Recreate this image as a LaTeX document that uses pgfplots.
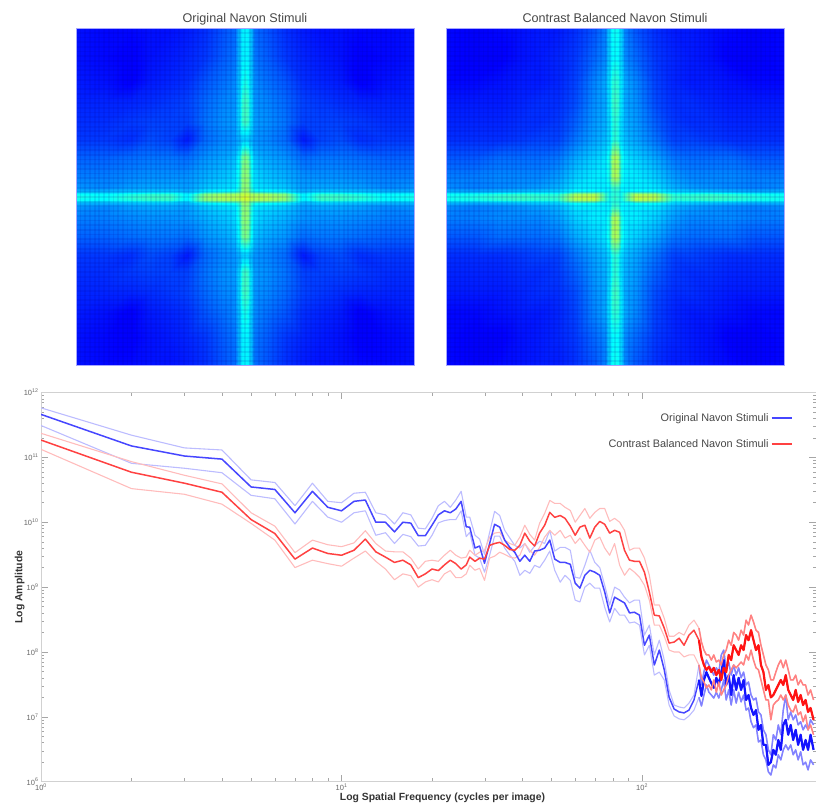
\documentclass[border=0pt]{standalone}
\usepackage{pgfplots}
\usepackage{pgfplotstable}
\usepackage{fontspec}
\setmainfont{Liberation Sans}
\pgfplotsset{compat=1.18}
\definecolor{bmid}{RGB}{70,70,255}
\definecolor{rmid}{RGB}{255,65,65}
\definecolor{bband}{RGB}{188,188,255}
\definecolor{rband}{RGB}{255,188,188}
\definecolor{bt}{RGB}{20,20,255}
\definecolor{rt}{RGB}{255,20,20}
\definecolor{bbt}{RGB}{130,130,255}
\definecolor{rbt}{RGB}{255,130,130}

\pgfplotstableread[row sep=\\]{
x y z\\
0 0 0.60\\3 0 0.58\\6 0 0.56\\10 0 0.55\\20 0 0.55\\40 0 0.52\\58 0 0.37\\75 0 0.44\\95 0 0.44\\115 0 0.42\\140 0 0.38\\169 0 0.40\\
0 3 0.57\\3 3 0.56\\6 3 0.54\\10 3 0.53\\20 3 0.53\\40 3 0.50\\58 3 0.36\\75 3 0.42\\95 3 0.42\\115 3 0.40\\140 3 0.37\\169 3 0.38\\
0 6 0.53\\3 6 0.51\\6 6 0.43\\10 6 0.39\\20 6 0.38\\40 6 0.36\\58 6 0.30\\75 6 0.32\\95 6 0.32\\115 6 0.31\\140 6 0.30\\169 6 0.30\\
0 10 0.52\\3 10 0.50\\6 10 0.41\\10 10 0.35\\20 10 0.34\\40 10 0.32\\58 10 0.28\\75 10 0.29\\95 10 0.29\\115 10 0.28\\140 10 0.26\\169 10 0.27\\
0 20 0.52\\3 20 0.50\\6 20 0.40\\10 20 0.34\\20 20 0.32\\40 20 0.30\\58 20 0.27\\75 20 0.27\\95 20 0.27\\115 20 0.26\\140 20 0.25\\169 20 0.25\\
0 40 0.50\\3 40 0.47\\6 40 0.38\\10 40 0.31\\20 40 0.29\\40 40 0.27\\58 40 0.23\\75 40 0.24\\95 40 0.24\\115 40 0.23\\140 40 0.22\\169 40 0.22\\
0 58 0.33\\3 58 0.32\\6 58 0.30\\10 58 0.27\\20 58 0.26\\40 58 0.23\\58 58 0.15\\75 58 0.19\\95 58 0.20\\115 58 0.17\\140 58 0.18\\169 58 0.18\\
0 75 0.44\\3 75 0.42\\6 75 0.34\\10 75 0.28\\20 75 0.27\\40 75 0.24\\58 75 0.19\\75 75 0.19\\95 75 0.19\\115 75 0.18\\140 75 0.17\\169 75 0.17\\
0 95 0.44\\3 95 0.42\\6 95 0.34\\10 95 0.27\\20 95 0.26\\40 95 0.23\\58 95 0.19\\75 95 0.18\\95 95 0.17\\115 95 0.16\\140 95 0.16\\169 95 0.16\\
0 115 0.40\\3 115 0.38\\6 115 0.32\\10 115 0.26\\20 115 0.24\\40 115 0.21\\58 115 0.17\\75 115 0.16\\95 115 0.15\\115 115 0.12\\140 115 0.14\\169 115 0.15\\
0 140 0.37\\3 140 0.36\\6 140 0.31\\10 140 0.24\\20 140 0.22\\40 140 0.18\\58 140 0.16\\75 140 0.15\\95 140 0.14\\115 140 0.12\\140 140 0.13\\169 140 0.14\\
0 169 0.37\\3 169 0.36\\6 169 0.31\\10 169 0.23\\20 169 0.21\\40 169 0.17\\58 169 0.15\\75 169 0.14\\95 169 0.14\\115 169 0.13\\140 169 0.13\\169 169 0.14\\
}\mapA

\pgfplotstableread[row sep=\\]{
x y z\\
0 0 0.44\\3 0 0.42\\6 0 0.40\\10 0 0.44\\20 0 0.57\\40 0 0.56\\58 0 0.43\\75 0 0.43\\95 0 0.44\\115 0 0.43\\140 0 0.41\\169 0 0.39\\
0 3 0.42\\3 3 0.41\\6 3 0.39\\10 3 0.43\\20 3 0.54\\40 3 0.53\\58 3 0.41\\75 3 0.41\\95 3 0.42\\115 3 0.41\\140 3 0.39\\169 3 0.38\\
0 6 0.42\\3 6 0.41\\6 6 0.38\\10 6 0.37\\20 6 0.38\\40 6 0.38\\58 6 0.33\\75 6 0.32\\95 6 0.31\\115 6 0.30\\140 6 0.29\\169 6 0.30\\
0 10 0.44\\3 10 0.43\\6 10 0.37\\10 10 0.36\\20 10 0.36\\40 10 0.35\\58 10 0.30\\75 10 0.28\\95 10 0.27\\115 10 0.26\\140 10 0.25\\169 10 0.26\\
0 20 0.55\\3 20 0.52\\6 20 0.40\\10 20 0.36\\20 20 0.36\\40 20 0.33\\58 20 0.28\\75 20 0.26\\95 20 0.26\\115 20 0.26\\140 20 0.25\\169 20 0.25\\
0 40 0.55\\3 40 0.52\\6 40 0.40\\10 40 0.35\\20 40 0.33\\40 40 0.29\\58 40 0.24\\75 40 0.23\\95 40 0.23\\115 40 0.23\\140 40 0.21\\169 40 0.21\\
0 58 0.42\\3 58 0.40\\6 58 0.34\\10 58 0.31\\20 58 0.29\\40 58 0.24\\58 58 0.19\\75 58 0.19\\95 58 0.18\\115 58 0.17\\140 58 0.17\\169 58 0.17\\
0 75 0.42\\3 75 0.40\\6 75 0.34\\10 75 0.30\\20 75 0.28\\40 75 0.22\\58 75 0.18\\75 75 0.17\\95 75 0.17\\115 75 0.16\\140 75 0.16\\169 75 0.16\\
0 95 0.44\\3 95 0.42\\6 95 0.35\\10 95 0.29\\20 95 0.27\\40 95 0.20\\58 95 0.17\\75 95 0.17\\95 95 0.16\\115 95 0.15\\140 95 0.15\\169 95 0.15\\
0 115 0.42\\3 115 0.41\\6 115 0.35\\10 115 0.29\\20 115 0.26\\40 115 0.19\\58 115 0.16\\75 115 0.15\\95 115 0.15\\115 115 0.14\\140 115 0.13\\169 115 0.13\\
0 140 0.38\\3 140 0.37\\6 140 0.33\\10 140 0.26\\20 140 0.23\\40 140 0.18\\58 140 0.16\\75 140 0.15\\95 140 0.14\\115 140 0.12\\140 140 0.12\\169 140 0.13\\
0 169 0.39\\3 169 0.38\\6 169 0.33\\10 169 0.25\\20 169 0.21\\40 169 0.17\\58 169 0.15\\75 169 0.15\\95 169 0.14\\115 169 0.13\\140 169 0.12\\169 169 0.13\\
}\mapB

\pgfplotstableread{
f mid hi lo
1 4.6e11 5.8e11 3.1e11
2 1.5e11 2.2e11 8.1e10
3 1.05e11 1.4e11 6.8e10
4 9.4e10 1.3e11 5.8e10
5 3.5e10 4.5e10 2.6e10
6 3.2e10 4.1e10 2.3e10
7 1.4e10 1.8e10 9.4e9
8 3.0e10 4.0e10 2.1e10
9 1.7e10 2.1e10 1.2e10
10 1.5e10 2.0e10 1.0e10
11 2.1e10 2.8e10 1.4e10
12 2.2e10 2.9e10 1.5e10
13 1.0e10 1.4e10 6.3e9
14 1.0e10 1.3e10 6.9e9
15 7.1e9 9.4e9 4.7e9
16 1.0e10 1.4e10 6.5e9
17 9.7e9 1.3e10 6.0e9
18 6.2e9 8.1e9 4.3e9
19 6.2e9 7.9e9 4.4e9
20 9.0e9 1.15e10 6.3e9
21 1.3e10 1.8e10 9.8e9
22 1.5e10 2.1e10 1.06e10
23 1.4e10 1.7e10 1.1e10
24 1.6e10 2.2e10 1.1e10
25 2.1e10 3.0e10 1.5e10
26 8.5e9 1.2e10 6.0e9
26.7 8.4e9 1.2e10 7.0e9
27.8 4.0e9 6.3e9 3.1e9
28.8 4.3e9 5.5e9 2.8e9
29.9 2.33e9 3.2e9 1.7e9
31.1 4.7e9 7.0e9 3.1e9
32.3 9.3e9 1.47e10 6.1e9
33.6 8.4e9 1.27e10 6.1e9
34.9 5.3e9 7.5e9 4.0e9
36.3 4.1e9 5.7e9 3.1e9
37.7 3.45e9 4.4e9 2.5e9
39.2 2.5e9 4.0e9 1.52e9
40.7 3.1e9 4.7e9 1.82e9
42.3 2.5e9 3.45e9 1.63e9
43.9 3.6e9 4.3e9 2.17e9
45.6 3.7e9 5.1e9 2.0e9
47.4 4.0e9 4.7e9 2.6e9
49.3 5.3e9 7.5e9 3.6e9
51.2 2.7e9 3.6e9 1.82e9
53.4 2.4e9 4.1e9 1.19e9
55.4 2.4e9 4.1e9 1.52e9
57.7 2.25e9 3.7e9 1.27e9
59.9 1.15e9 1.42e9 6.3e8
62.1 9.65e8 1.37e9 5.9e8
64.5 1.52e9 2.17e9 1.0e9
67 1.82e9 3.7e9 1.15e9
69.6 1.7e9 2.4e9 9.65e8
72.3 1.52e9 2.0e9 9.65e8
75.1 8.4e8 1.07e9 4.9e8
78 4.0e8 5.3e8 2.9e8
81 7.0e8 1.0e9 4.7e8
84.2 6.3e8 9.0e8 3.7e8
87.4 5.7e8 7.0e8 3.7e8
90.8 4.0e8 5.7e8 2.8e8
94.3 4.1e8 6.3e8 2.9e8
98 3.7e8 6.3e8 2.6e8
101.8 1.27e8 1.82e8 9.0e7
105.7 1.82e8 2.6e8 1.27e8
109.8 6.3e7 9.0e7 4.4e7
114.1 1.07e8 1.52e8 4.9e7
118.5 5.3e7 7.5e7 3.7e7
123 2.0e7 2.6e7 1.52e7
127.8 1.32e7 1.52e7 1.03e7
132.8 1.19e7 1.42e7 9.3e6
137.9 1.15e7 1.37e7 9.0e6
143.2 1.27e7 1.63e7 1.03e7
148.8 1.82e7 2.17e7 1.27e7
154.6 3.7e7 6.3e7 2.0e7
157.6 2.1e7 3.1e7 1.47e7
160.6 3.7e7 4.9e7 2.17e7
163.7 4.9e7 7.5e7 3.1e7
166.8 4.0e7 6.3e7 2.4e7
170 3.3e7 5.3e7 2.17e7
173.2 2.8e7 4.4e7 1.95e7
176.6 4.0e7 5.7e7 2.4e7
180 3.1e7 4.9e7 1.95e7
183.4 4.9e7 9.0e7 2.6e7
186.9 7.5e7 1.07e8 3.7e7
190.5 3.1e7 5.3e7 1.82e7
194.2 4.4e7 7.0e7 2.6e7
197.9 2.17e7 4.4e7 1.52e7
201.7 4.4e7 6.3e7 2.6e7
205.6 2.6e7 4.4e7 1.63e7
209.5 4.0e7 5.7e7 2.4e7
213.5 2.6e7 4.0e7 1.7e7
217.6 3.7e7 4.9e7 2.17e7
221.8 1.82e7 3.1e7 1.27e7
226 2.17e7 3.45e7 1.37e7
230.4 1.37e7 2.17e7 8.4e6
234.8 1.07e7 1.82e7 6.8e6
239.3 1.27e7 1.95e7 7.5e6
243.9 6.3e6 1.19e7 4.1e6
248.6 7.5e6 1.07e7 4.4e6
253.3 3.7e6 6.3e6 2.6e6
258.2 3.7e6 5.3e6 2.17e6
263.1 1.82e6 3.1e6 1.42e6
268.2 2.0e6 2.6e6 1.27e6
273.3 3.1e6 5.3e6 1.82e6
278.6 2.6e6 4.4e6 1.63e6
283.9 4.4e6 7.5e6 2.6e6
289.4 3.1e6 5.3e6 2.17e6
294.9 7.5e6 1.27e7 3.1e6
300.6 9.0e6 2.17e7 3.7e6
306.3 5.3e6 9.0e6 3.1e6
312.2 7.5e6 1.19e7 3.7e6
318.2 4.4e6 9.0e6 2.6e6
324.3 6.3e6 1.07e7 3.1e6
330.5 3.7e6 7.5e6 2.17e6
336.9 5.3e6 8.4e6 2.9e6
343.3 3.1e6 6.3e6 1.82e6
349.9 4.4e6 7.5e6 2.0e6
356.6 3.1e6 6.3e6 1.52e6
363.5 5.3e6 9.0e6 2.17e6
372 3.1e6 7.5e6 1.82e6
}\blue

\pgfplotstableread{
f mid hi lo
1 1.85e11 2.35e11 1.33e11
2 5.9e10 8.6e10 3.3e10
3 4.0e10 5.3e10 2.7e10
4 2.9e10 3.9e10 1.9e10
5 1.1e10 1.4e10 9.6e9
6 6.7e9 8.7e9 5.3e9
7 2.7e9 3.4e9 2.0e9
8 4.0e9 5.3e9 2.6e9
9 3.3e9 4.5e9 2.3e9
10 3.1e9 4.2e9 2.1e9
11 3.7e9 4.8e9 2.8e9
12 5.5e9 7.4e9 3.6e9
13 3.5e9 4.7e9 2.5e9
14 2.9e9 3.6e9 1.9e9
15 2.4e9 3.5e9 1.3e9
16 2.6e9 3.5e9 1.6e9
17 2.2e9 2.8e9 1.5e9
18 1.4e9 1.9e9 1.0e9
19 1.6e9 2.5e9 1.2e9
20 1.9e9 2.6e9 1.3e9
21 1.8e9 2.5e9 1.2e9
22 2.2e9 3.1e9 1.6e9
23 2.6e9 3.7e9 1.8e9
24 2.3e9 3.1e9 1.4e9
25 1.9e9 2.8e9 1.4e9
26 2.2e9 2.9e9 1.6e9
26.7 2.9e9 3.7e9 2.17e9
27.8 2.5e9 3.1e9 1.82e9
28.8 2.8e9 3.45e9 1.95e9
29.9 2.7e9 3.7e9 1.27e9
31.1 4.4e9 5.9e9 2.8e9
32.3 4.7e9 6.8e9 3.0e9
33.6 4.9e9 7.0e9 3.45e9
34.9 4.4e9 5.3e9 3.2e9
36.3 3.8e9 4.7e9 2.9e9
37.7 3.7e9 4.4e9 2.8e9
39.2 4.4e9 5.9e9 3.1e9
40.7 6.8e9 9.0e9 4.7e9
42.3 5.1e9 6.5e9 3.7e9
43.9 4.3e9 5.3e9 3.1e9
45.6 6.8e9 9.65e9 4.1e9
47.4 9.0e9 1.37e10 5.9e9
49.3 1.42e10 2.17e10 7.5e9
51.2 1.19e10 1.95e10 6.3e9
53.4 1.27e10 1.95e10 7.5e9
55.4 1.15e10 1.7e10 5.7e9
57.7 8.7e9 1.52e10 6.3e9
59.9 6.3e9 1.0e10 4.7e9
62.1 8.4e9 1.27e10 5.7e9
64.5 9.0e9 1.63e10 4.4e9
67 5.7e9 1.15e10 3.45e9
69.6 8.4e9 1.42e10 5.3e9
72.3 1.03e10 1.63e10 5.9e9
75.1 9.3e9 1.63e10 4.0e9
78 6.8e9 1.03e10 3.1e9
81 7.5e9 1.15e10 4.7e9
84.2 7.0e9 1.0e10 2.17e9
87.4 3.7e9 7.5e9 1.52e9
90.8 2.6e9 3.7e9 1.95e9
94.3 2.5e9 4.0e9 1.7e9
98 2.5e9 4.0e9 1.42e9
101.8 1.7e9 2.8e9 1.07e9
105.7 8.4e8 1.52e9 6.3e8
109.8 3.7e8 5.3e8 2.6e8
114.1 3.6e8 5.3e8 2.6e8
118.5 2.33e8 3.3e8 1.75e8
123 1.37e8 1.75e8 1.07e8
127.8 1.42e8 1.75e8 1.0e8
132.8 1.63e8 2.0e8 1.0e8
137.9 1.27e8 1.82e8 8.4e7
143.2 1.82e8 2.6e8 9.0e7
148.8 2.17e8 3.1e8 9.0e7
154.6 1.52e8 2.33e8 6.3e7
157.6 8.4e7 1.42e8 4.0e7
160.6 6.3e7 1.07e8 3.45e7
163.7 5.3e7 9.0e7 2.8e7
166.8 5.9e7 9.0e7 3.1e7
170 4.9e7 7.5e7 2.6e7
173.2 5.7e7 9.0e7 3.7e7
176.6 4.4e7 7.0e7 2.4e7
180 5.3e7 7.5e7 3.45e7
183.4 3.7e7 6.3e7 2.17e7
186.9 5.7e7 9.0e7 2.6e7
190.5 4.9e7 1.07e8 3.1e7
194.2 9.0e7 1.52e8 4.4e7
197.9 7.5e7 1.27e8 5.3e7
201.7 1.27e8 2.0e8 6.3e7
205.6 1.07e8 1.82e8 5.7e7
209.5 9.0e7 1.52e8 6.3e7
213.5 1.27e8 2.17e8 7.0e7
217.6 1.07e8 1.82e8 6.3e7
221.8 1.82e8 3.1e8 9.0e7
226 1.52e8 2.6e8 7.5e7
230.4 2.17e8 3.7e8 1.07e8
234.8 1.52e8 2.9e8 7.5e7
239.3 1.07e8 2.17e8 5.7e7
243.9 1.27e8 2.0e8 5.3e7
248.6 6.3e7 1.27e8 3.7e7
253.3 4.9e7 9.0e7 2.6e7
258.2 2.6e7 6.3e7 1.82e7
263.1 3.1e7 5.3e7 1.82e7
268.2 2.0e7 3.7e7 9.0e6
273.3 2.17e7 3.7e7 1.52e7
278.6 2.6e7 4.9e7 1.7e7
283.9 3.1e7 6.3e7 1.82e7
289.4 3.7e7 7.5e7 2.17e7
294.9 3.1e7 5.7e7 1.82e7
300.6 4.4e7 7.5e7 2.17e7
306.3 2.6e7 5.3e7 1.52e7
312.2 2.17e7 3.7e7 1.27e7
318.2 1.82e7 3.7e7 1.19e7
324.3 2.6e7 4.4e7 1.52e7
330.5 1.7e7 3.1e7 1.07e7
336.9 2.17e7 3.7e7 1.19e7
343.3 1.52e7 3.1e7 8.4e6
349.9 1.82e7 3.1e7 1.07e7
356.6 1.19e7 2.17e7 6.3e6
363.5 1.37e7 2.6e7 7.5e6
372 9.0e6 1.82e7 5.3e6
}\red

\pgfplotsset{
  heat/.style={
    scale only axis, anchor=north west,
    width=338pt, height=337.4pt,
    xmin=-169, xmax=169, ymin=-169, ymax=169,
    view={0}{90}, ztick=\empty,
    xtick distance=4.7, ytick distance=4.7, xticklabels={}, yticklabels={},
    major tick length=0pt, axis on top,
    xmajorgrids, ymajorgrids,
    major grid style={draw=blue!60!black, opacity=0.10, line width=1.8pt},
    axis line style={draw=blue!35, line width=0.6pt},
    colormap/jet, point meta min=0, point meta max=1,
    title style={font=\fontsize{12.6}{14}\selectfont, text=black!72,
      at={(axis description cs:0.5,1)}, anchor=base, yshift=0pt},
  },
  hsurf/.style={surf, shader=interp, mesh/cols=12},
}
\newcommand{\fourquad}[1]{%
  \addplot3[hsurf] table[x=x,y=y,z=z]{#1};
  \addplot3[hsurf] table[x expr=-\thisrow{x},y=y,z=z]{#1};
  \addplot3[hsurf] table[x=x,y expr=-\thisrow{y},z=z]{#1};
  \addplot3[hsurf] table[x expr=-\thisrow{x},y expr=-\thisrow{y},z=z]{#1};
}
\begin{document}
\begin{tikzpicture}[x=1pt,y=1pt]
\path[use as bounding box] (0,0) rectangle (816,-807);
\begin{axis}[heat, at={(76pt,-28.3pt)}, title={Original Navon Stimuli}]
\fourquad{\mapA}
\end{axis}
\begin{axis}[heat, at={(446pt,-28.3pt)}, title={Contrast Balanced Navon Stimuli}]
\fourquad{\mapB}
\end{axis}
\begin{axis}[
  scale only axis, anchor=north west, at={(41pt,-392.5pt)},
  width=775pt, height=389.2pt,
  xmode=log, ymode=log, xmin=1, xmax=379, ymin=1e6, ymax=1e12,
  xtick={1,10,100}, xticklabels={10\textsuperscript{0},10\textsuperscript{1},10\textsuperscript{2}},
  ytick={1e6,1e7,1e8,1e9,1e10,1e11,1e12},
  yticklabels={10\textsuperscript{6},10\textsuperscript{7},10\textsuperscript{8},10\textsuperscript{9},10\textsuperscript{10},10\textsuperscript{11},10\textsuperscript{12}},
  tick align=inside, axis line style={draw=black!18, line width=0.9pt},
  tick style={draw=black!35, line width=0.5pt},
  major tick length=7pt, minor tick length=3.5pt,
  tick label style={font=\fontsize{7.5}{8}\selectfont, text=black!60},
  xticklabel style={yshift=1pt}, yticklabel style={xshift=1pt},
  xlabel={Log Spatial Frequency (cycles per image)},
  ylabel={Log Amplitude},
  label style={font=\bfseries\fontsize{10.4}{11}\selectfont, text=black!80},
  xlabel style={at={(axis description cs:0.5,0)}, anchor=north, xshift=14pt, yshift=-8pt},
  ylabel style={at={(axis description cs:0,0.5)}, anchor=south, yshift=13pt},
  legend plot pos=right, legend cell align=right,
  legend style={draw=none, fill=none, at={(axis description cs:0.97,0.952)}, anchor=north east,
    font=\fontsize{10.9}{12}\selectfont, text=black!72, row sep=13pt, inner sep=0pt,
    /tikz/every even column/.append style={column sep=10pt}},
  legend image post style={line width=2pt},
  legend image code/.code={\draw[#1] (0cm,0.3pt) -- (20pt,0.3pt);},
]
\addplot[bband, line width=1.1pt, line join=round, forget plot] table[x=f,y=hi]{\blue};
\addplot[bband, line width=1.1pt, line join=round, forget plot] table[x=f,y=lo]{\blue};
\addplot[rband, line width=1.1pt, line join=round, forget plot] table[x=f,y=hi]{\red};
\addplot[rband, line width=1.1pt, line join=round, forget plot] table[x=f,y=lo]{\red};
\addplot[bbt, line width=1.5pt, line join=round, forget plot, skip coords between index={0}{72}] table[x=f,y=hi]{\blue};
\addplot[bbt, line width=1.5pt, line join=round, forget plot, skip coords between index={0}{72}] table[x=f,y=lo]{\blue};
\addplot[bmid, line width=1.5pt, line join=round] table[x=f,y=mid]{\blue};
\addplot[bt, line width=2.2pt, line join=round, forget plot, skip coords between index={0}{72}] table[x=f,y=mid]{\blue};
\addplot[rbt, line width=1.5pt, line join=round, forget plot, skip coords between index={0}{72}] table[x=f,y=hi]{\red};
\addplot[rbt, line width=1.5pt, line join=round, forget plot, skip coords between index={0}{72}] table[x=f,y=lo]{\red};
\addplot[rmid, line width=1.5pt, line join=round] table[x=f,y=mid]{\red};
\addplot[rt, line width=2.2pt, line join=round, forget plot, skip coords between index={0}{72}] table[x=f,y=mid]{\red};
\legend{Original Navon Stimuli, Contrast Balanced Navon Stimuli}
\end{axis}
\end{tikzpicture}
\end{document}
